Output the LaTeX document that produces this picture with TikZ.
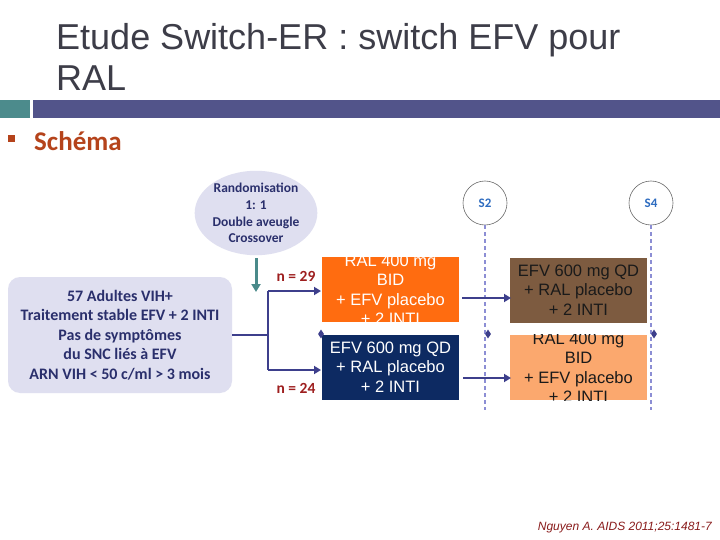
\documentclass[tikz,border=0pt]{standalone}
\usepackage{fontspec}
\setmainfont{Liberation Sans}
\newfontfamily\arialf{Liberation Sans}
\newfontfamily\calibrif{Carlito}
\usetikzlibrary{arrows.meta,shapes.geometric,positioning}
\definecolor{titlegray}{HTML}{3D3D48}
\definecolor{tealsq}{HTML}{4C8B8C}
\definecolor{barblue}{HTML}{52548A}
\definecolor{schemared}{HTML}{B5431B}
\definecolor{lavfill}{HTML}{DFDFF0}
\definecolor{textnavy}{HTML}{2A2F6C}
\definecolor{arrownavy}{HTML}{3D3F8C}
\definecolor{tealarrow}{HTML}{4A8A8A}
\definecolor{nred}{HTML}{9E1F1F}
\definecolor{orangebox}{HTML}{FF6C10}
\definecolor{navybox}{HTML}{0D2A62}
\definecolor{brownbox}{HTML}{7D5B40}
\definecolor{lightorange}{HTML}{FBA86E}
\definecolor{dashblue}{HTML}{8C8ED4}
\definecolor{circgray}{HTML}{6B6B6B}
\definecolor{sblue}{HTML}{2E6CC0}
\definecolor{citered}{HTML}{8A1C1C}
\definecolor{darktext}{HTML}{1A1A1A}
\tikzset{
  armbox/.style={draw=none, minimum width=137pt, minimum height=65pt, inner sep=0pt},
  armtext/.style={font=\arialf\fontsize{16.5}{19.5}\selectfont, align=center, inner sep=0pt},
  flowarrow/.style={draw=arrownavy, line width=2.4pt, -{Triangle[length=7pt,width=8pt]}},
  flowline/.style={draw=arrownavy, line width=2.4pt},
  timeline/.style={draw=dashblue, line width=1.3pt, dash pattern=on 4pt off 3pt},
  visit/.style={circle, draw=circgray, line width=0.6pt, minimum size=44pt, inner sep=0pt, text=sblue, font=\calibrif\bfseries\fontsize{13}{15}\selectfont},
  nlabel/.style={text=nred, font=\calibrif\bfseries\fontsize{15.5}{17}\selectfont, inner sep=0pt},
  marker/.style={diamond, fill=arrownavy, draw=none, minimum width=6pt, minimum height=9pt, inner sep=0pt}
}
\begin{document}
\begin{tikzpicture}[x=1pt,y=-1pt]
\useasboundingbox (0,0) rectangle (720,540);
\fill[white] (0,0) rectangle (720,540);
% title
\node[anchor=base west, inner sep=0pt, text=titlegray, font=\arialf\fontsize{36}{40}\selectfont] (title1) at (56,50) {Etude Switch-ER : switch EFV pour};
\node[anchor=base west, inner sep=0pt, text=titlegray, font=\arialf\fontsize{36}{40}\selectfont] (title2) at (56,91) {RAL};
% bar
\fill[tealsq] (0,100) rectangle (30,118);
\fill[barblue] (33,100) rectangle (720,118);
% bullet
\fill[schemared] (8,135) rectangle (15,142);
\node[anchor=base west, inner sep=0pt, text=schemared, font=\calibrif\bfseries\fontsize{27}{30}\selectfont] (schema) at (34,151) {Schéma};
% randomisation ellipse
\node[ellipse, fill=lavfill, minimum width=120pt, minimum height=82pt, inner sep=0pt, align=center, text=textnavy, font=\calibrif\bfseries\fontsize{13.5}{16.7}\selectfont] (rando) at (256,213) {Randomisation\\1: 1\\Double aveugle\\Crossover};
\coordinate (randostart) at (256,258);
\coordinate (randoend) at (256,292);
\draw[draw=tealarrow, line width=3pt, -{Triangle[length=8pt,width=9pt]}] (randostart) -- (randoend);
% population box
\node[rounded corners=12pt, fill=lavfill, minimum width=224pt, minimum height=116pt, inner sep=0pt, align=center, text=textnavy, font=\calibrif\bfseries\fontsize{16}{19.5}\selectfont] (pop) at (120,335) {57 Adultes VIH+\\Traitement stable EFV + 2 INTI\\Pas de symptômes\\du SNC liés à EFV\\ARN VIH < 50 c/ml > 3 mois};
% arm boxes
\node[armbox, fill=orangebox] (ralA) at (390.5,289.5) {};
\node[armbox, fill=navybox] (efvA) at (390.5,367) {};
\node[armbox, fill=brownbox] (efvB) at (578.5,290) {};
\node[armbox, fill=lightorange] (ralB) at (578.5,367.5) {};
\begin{scope}
\clip (ralA.south west) rectangle (ralA.north east);
\node[armtext, text=white] (ralAt) at (ralA.center) {RAL 400 mg\\BID\\+ EFV placebo\\+ 2 INTI};
\end{scope}
\node[armtext, text=white] (efvAt) at (efvA.center) {EFV 600 mg QD\\+ RAL placebo\\+ 2 INTI};
\node[armtext, text=darktext] (efvBt) at (efvB.center) {EFV 600 mg QD\\+ RAL placebo\\+ 2 INTI};
\begin{scope}
\clip (ralB.south west) rectangle (ralB.north east);
\node[armtext, text=darktext] (ralBt) at (ralB.center) {RAL 400 mg\\BID\\+ EFV placebo\\+ 2 INTI};
\end{scope}
% visit circles and timelines
\node[visit] (s2) at (485,203) {S2};
\node[visit] (s4) at (651,203) {S4};
\coordinate (s2end) at (485,410);
\coordinate (s4end) at (651,410);
\draw[timeline] (s2.south) -- (s2end);
\draw[timeline] (s4.south) -- (s4end);
% markers
\node[marker] (m1) at (321,334) {};
\node[marker] (m2) at (488,334) {};
\node[marker] (m3) at (654,334) {};
% randomisation split
\coordinate (split) at (268,335);
\coordinate (splittop) at (268,291);
\coordinate (splitbot) at (268,370);
\coordinate (topin) at (321,291);
\coordinate (botin) at (321,370);
\draw[flowline] (pop.east) -- (split);
\draw[flowline] (splittop) -- (splitbot);
\draw[flowarrow] (splittop) -- (topin);
\draw[flowarrow] (splitbot) -- (botin);
\node[nlabel] (n29) at (296,276) {n = 29};
\node[nlabel] (n24) at (296,388) {n = 24};
% crossover arrows
\coordinate (xa1) at (462,298);
\coordinate (xa2) at (511,298);
\coordinate (xb1) at (463,378);
\coordinate (xb2) at (511,378);
\draw[flowarrow] (xa1) -- (xa2);
\draw[flowarrow] (xb1) -- (xb2);
% citation
\node[anchor=base east, inner sep=0pt, text=citered, font=\arialf\itshape\fontsize{12}{14}\selectfont] (cite) at (712,530) {Nguyen A. AIDS 2011;25:1481-7};
\end{tikzpicture}
\end{document}
